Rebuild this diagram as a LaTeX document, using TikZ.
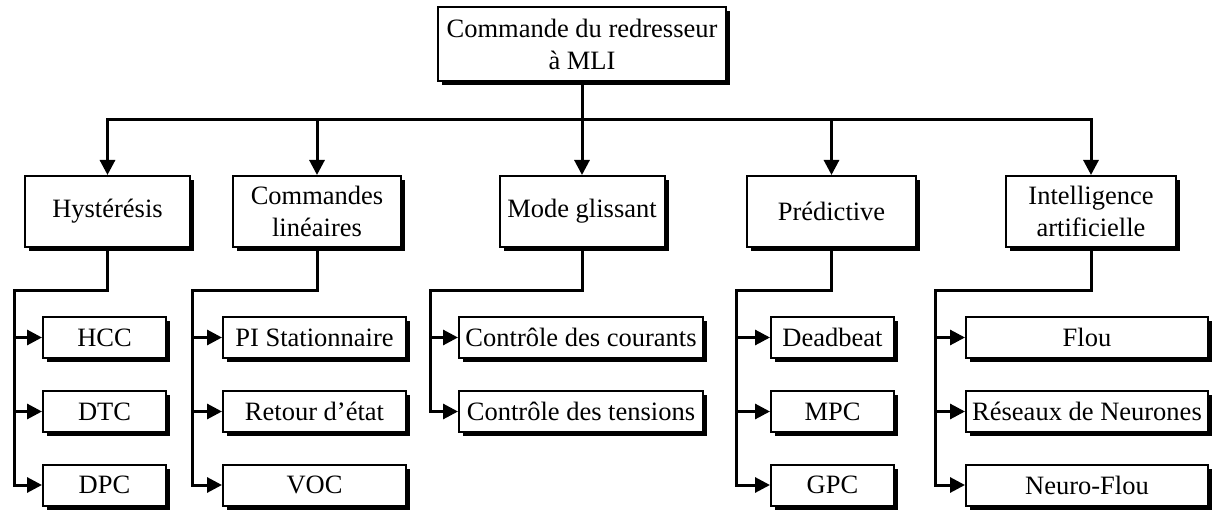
\documentclass[tikz,border=0pt]{standalone}
\usepackage{fontspec}
\setmainfont{Liberation Serif}
\usetikzlibrary{arrows.meta,shadows}
\begin{document}
\begin{tikzpicture}[x=1pt,y=-1pt,
  box/.style={draw,line width=2pt,fill=white,inner sep=0pt,align=center,
    font=\fontsize{26.5}{32}\selectfont,
    drop shadow={shadow xshift=4pt,shadow yshift=-4pt,fill=black,opacity=1}},
  wire/.style={line width=3pt,line join=miter},
  arr/.style={wire,-{Triangle[length=15pt,width=15pt]}}]
\useasboundingbox (0,0) rectangle (1214,510);
% root
\node[box,minimum width=288pt,minimum height=74pt] (top) at (582,44) {Commande du redresseur\\à MLI};
% level 2
\node[box,minimum width=165pt,minimum height=71pt] (hy) at (107.5,211.5) {Hystérésis};
\node[box,minimum width=168pt,minimum height=71pt] (cl) at (317,211.5) {Commandes\\linéaires};
\node[box,minimum width=165pt,minimum height=71pt] (mg) at (582,211.5) {Mode glissant};
\node[box,minimum width=169pt,minimum height=71pt] (pr) at (831.5,211.5) {Prédictive};
\node[box,minimum width=170pt,minimum height=71pt] (ia) at (1091,211.5) {Intelligence\\artificielle};
% level 3
\node[box,minimum width=123pt,minimum height=41pt] (hcc) at (104.5,337.5) {HCC};
\node[box,minimum width=123pt,minimum height=41pt] (dtc) at (104.5,411.5) {DTC};
\node[box,minimum width=123pt,minimum height=41pt] (dpc) at (104.5,485) {DPC};
\node[box,minimum width=183pt,minimum height=41pt] (pis) at (314.5,337.5) {PI Stationnaire};
\node[box,minimum width=183pt,minimum height=41pt] (ret) at (314.5,411.5) {Retour d’état};
\node[box,minimum width=183pt,minimum height=41pt] (voc) at (314.5,485) {VOC};
\node[box,minimum width=244pt,minimum height=41pt] (cc) at (581,337.5) {Contrôle des courants};
\node[box,minimum width=244pt,minimum height=41pt] (ct) at (581,411.5) {Contrôle des tensions};
\node[box,minimum width=123pt,minimum height=41pt] (db) at (832.5,337.5) {Deadbeat};
\node[box,minimum width=123pt,minimum height=41pt] (mpc) at (832.5,411.5) {MPC};
\node[box,minimum width=123pt,minimum height=41pt] (gpc) at (832.5,485) {GPC};
\node[box,minimum width=242pt,minimum height=41pt] (fl) at (1087,337.5) {Flou};
\node[box,minimum width=242pt,minimum height=41pt] (rn) at (1087,411.5) {Réseaux de Neurones};
\node[box,minimum width=242pt,minimum height=41pt] (nf) at (1087,485) {Neuro-Flou};
% bus
\coordinate (bus) at (582,120);
\draw[arr] (top.south) -- (mg.north);
\draw[arr] (bus) -| (hy.north);
\draw[arr] (bus) -| (cl.north);
\draw[arr] (bus) -| (pr.north);
\draw[arr] (bus) -| (ia.north);
% branches
\coordinate (h0) at (14,291);
\coordinate (c0) at (192,291);
\coordinate (m0) at (430,291);
\coordinate (p0) at (736,291);
\coordinate (i0) at (935,291);
\draw[arr] (hy.south) |- (h0) |- (dpc.west);
\draw[arr] (h0 |- hcc) -- (hcc.west);
\draw[arr] (h0 |- dtc) -- (dtc.west);
\draw[arr] (cl.south) |- (c0) |- (voc.west);
\draw[arr] (c0 |- pis) -- (pis.west);
\draw[arr] (c0 |- ret) -- (ret.west);
\draw[arr] (mg.south) |- (m0) |- (ct.west);
\draw[arr] (m0 |- cc) -- (cc.west);
\draw[arr] (pr.south) |- (p0) |- (gpc.west);
\draw[arr] (p0 |- db) -- (db.west);
\draw[arr] (p0 |- mpc) -- (mpc.west);
\draw[arr] (ia.south) |- (i0) |- (nf.west);
\draw[arr] (i0 |- fl) -- (fl.west);
\draw[arr] (i0 |- rn) -- (rn.west);
\end{tikzpicture}
\end{document}
